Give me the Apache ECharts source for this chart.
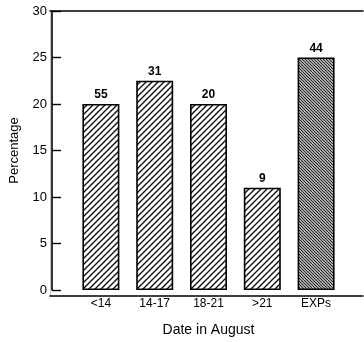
<!DOCTYPE html>
<html><head><meta charset="utf-8">
<script src="https://cdn.jsdelivr.net/npm/echarts@6/dist/echarts.min.js"></script>
<style>html,body{margin:0;padding:0;background:#fff}#c{width:364px;height:342px}</style>
</head><body><div id="c"></div>
<script>
var categories = ['<14', '14-17', '18-21', '>21', 'EXPs'];
var percentages = [20, 22.5, 20, 11, 25];
var countLabels = ['55', '31', '20', '9', '44'];
var yTicks = [0, 5, 10, 15, 20, 25, 30];

function makePattern(size, bg, fg, lw, dir) {
  var cv = document.createElement('canvas');
  cv.width = size; cv.height = size;
  var ctx = cv.getContext('2d');
  ctx.fillStyle = bg; ctx.fillRect(0, 0, size, size);
  ctx.strokeStyle = fg; ctx.lineWidth = lw; ctx.lineCap = 'square';
  ctx.beginPath();
  for (var k = -1; k <= 1; k++) {
    var o = k * size;
    if (dir === '/') { ctx.moveTo(o, size); ctx.lineTo(o + size, 0); }
    else { ctx.moveTo(o, 0); ctx.lineTo(o + size, size); }
  }
  ctx.stroke();
  return cv;
}
var lightHatch = makePattern(6, '#ffffff', '#111111', 1.4, '/');
var darkHatch = makePattern(3, '#a8a8a8', '#2a2a2a', 1.0, '\\');

var barData = percentages.map(function (v, i) {
  return {
    value: v,
    itemStyle: {
      color: { image: i === 4 ? darkHatch : lightHatch, repeat: 'repeat' },
      borderColor: '#000', borderWidth: 1.6
    },
    label: { formatter: countLabels[i] }
  };
});

var font = 'Liberation Sans, Arial, sans-serif';
var chart = echarts.init(document.getElementById('c'), null, { renderer: 'canvas' });
chart.setOption({
  animation: false,
  backgroundColor: '#fff',
  grid: [
    { left: 72, right: 21, top: 11, bottom: 46 },
    { left: 50, right: 1, top: 11, bottom: 46 }
  ],
  xAxis: [
    {
      type: 'category', gridIndex: 0, data: categories,
      axisLine: { show: false }, axisTick: { show: false },
      axisLabel: { color: '#000', fontFamily: font, fontSize: 12, margin: 8 },
      name: 'Date in August', nameLocation: 'middle', nameGap: 33,
      nameTextStyle: { color: '#000', fontFamily: font, fontSize: 14 }
    },
    {
      type: 'value', gridIndex: 1, min: 0, max: 1, position: 'bottom',
      axisLine: { show: true, lineStyle: { color: '#000', width: 1.6 } },
      axisTick: { show: false }, axisLabel: { show: false }, splitLine: { show: false }
    },
    {
      type: 'value', gridIndex: 1, min: 0, max: 1, position: 'top',
      axisLine: { show: true, lineStyle: { color: '#000', width: 1.6 } },
      axisTick: { show: false }, axisLabel: { show: false }, splitLine: { show: false }
    }
  ],
  yAxis: [
    {
      type: 'value', gridIndex: 0, min: yTicks[0], max: yTicks[yTicks.length - 1], interval: 5,
      offset: 22,
      axisLine: { show: true, lineStyle: { color: '#000', width: 1.6 } },
      axisTick: { show: true, inside: true, length: 9, lineStyle: { color: '#000', width: 1.4 } },
      axisLabel: { color: '#000', fontFamily: font, fontSize: 13, margin: 5 },
      splitLine: { show: false },
      name: 'Percentage', nameLocation: 'middle', nameGap: 31,
      nameTextStyle: { color: '#000', fontFamily: font, fontSize: 13 }
    },
    {
      type: 'value', gridIndex: 1, min: 0, max: 1, position: 'right',
      axisLine: { show: true, lineStyle: { color: '#c4c4c4', width: 1 } },
      axisTick: { show: false }, axisLabel: { show: false }, splitLine: { show: false }
    }
  ],
  series: [{
    type: 'bar', xAxisIndex: 0, yAxisIndex: 0,
    data: barData, barWidth: 37,
    label: {
      show: true, position: 'top', distance: 3,
      color: '#000', fontFamily: font, fontSize: 12, fontWeight: 'bold'
    }
  }]
});
</script></body></html>
